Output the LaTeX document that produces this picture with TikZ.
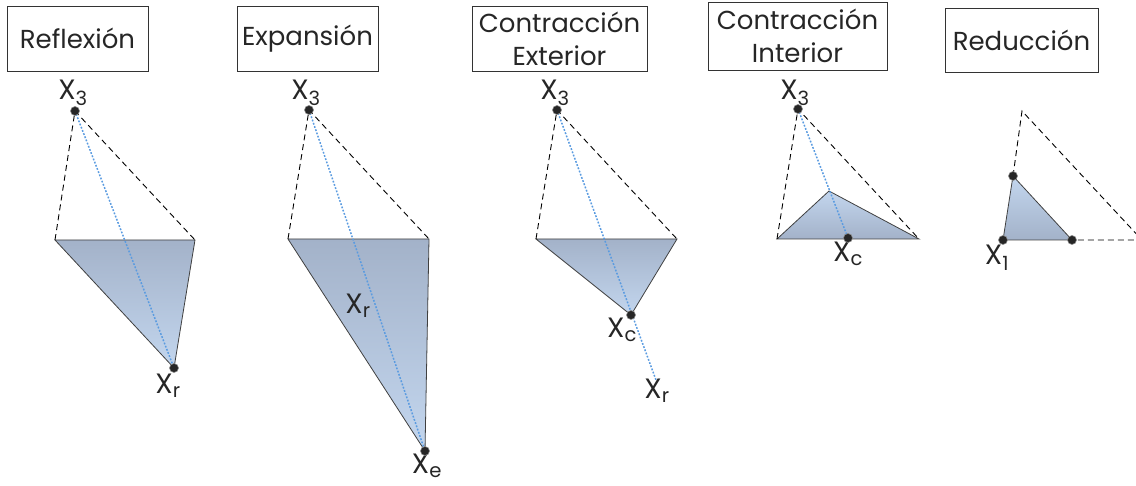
\documentclass[tikz,border=0pt]{standalone}
\usepackage{fontspec}
\setmainfont{Poppins}
\usetikzlibrary{positioning}
\definecolor{simdark}{HTML}{A3B2C9}
\definecolor{simlight}{HTML}{C3D6EE}
\definecolor{simblue}{HTML}{5A9BE0}

\begin{document}
\begin{tikzpicture}[x=1pt, y=-1pt,
    every node/.style={font=\fontsize{26}{33}\selectfont, text=black!85},
    titlebox/.style={draw=black!80, line width=0.9pt, inner sep=0pt, align=center},
    lbl/.style={inner sep=0pt, font=\fontsize{28}{33}\selectfont},
    hull/.style={black, line width=0.9pt, dash pattern=on 6pt off 4pt},
    ray/.style={simblue, line width=1.5pt, dash pattern=on 1.8pt off 1.6pt},
    simplexdown/.style={draw=black!75, line width=0.8pt, top color=simdark, middle color=simdark, bottom color=simlight},
    simplexup/.style={draw=black!75, line width=0.8pt, top color=simlight, bottom color=simdark}]
    \clip (0,0) rectangle (1136,486);

    % titulos
    \node[titlebox, minimum width=141pt, minimum height=65pt] (t1) at (77.5,38.5) {Reflexión};
    \node[titlebox, minimum width=141pt, minimum height=65pt] (t2) at (307.5,38.5) {Expansión};
    \node[titlebox, minimum width=175pt, minimum height=65pt] (t3) at (559.5,38.5) {Contracción\\Exterior};
    \node[titlebox, minimum width=179pt, minimum height=68pt] (t4) at (797.5,36) {Contracción\\Interior};
    \node[titlebox, minimum width=153pt, minimum height=64pt] (t5) at (1021.5,40) {Reducción};

    % reflexion
    \coordinate (r3) at (75,111);
    \coordinate (ra) at (55,240);
    \coordinate (rb) at (195,240);
    \coordinate (rr) at (174,368);
    \draw[simplexdown] (ra) -- (rb) -- (rr) -- cycle;
    \draw[hull] (ra) -- (r3) -- (rb);
    \draw[ray] (r3) -- (rr);
    \node[lbl] (r3l) at (73,93) {X\textsubscript{3}};
    \node[lbl] (rrl) at (168,386) {X\textsubscript{r}};

    % expansion
    \coordinate (e3) at (309,110);
    \coordinate (ea) at (288,239);
    \coordinate (eb) at (429,239);
    \coordinate (ee) at (425,451);
    \draw[simplexdown] (ea) -- (eb) -- (ee) -- cycle;
    \draw[hull] (ea) -- (e3) -- (eb);
    \draw[ray] (e3) -- (ee);
    \node[lbl] (e3l) at (306,93) {X\textsubscript{3}};
    \node[lbl] (erl) at (358,306) {X\textsubscript{r}};
    \node[lbl] (eel) at (427,466) {X\textsubscript{e}};

    % contraccion exterior
    \coordinate (c3) at (557,110);
    \coordinate (ca) at (536,239);
    \coordinate (cb) at (677,239);
    \coordinate (cc) at (631,315);
    \coordinate (cr) at (656,380);
    \draw[simplexdown] (ca) -- (cb) -- (cc) -- cycle;
    \draw[hull] (ca) -- (c3) -- (cb);
    \draw[ray] (c3) -- (cr);
    \node[lbl] (c3l) at (555,93) {X\textsubscript{3}};
    \node[lbl] (ccl) at (622,330) {X\textsubscript{c}};
    \node[lbl] (crl) at (657,391) {X\textsubscript{r}};

    % contraccion interior
    \coordinate (i3) at (798,109);
    \coordinate (ia) at (777,239);
    \coordinate (ib) at (919,239);
    \coordinate (ip) at (829,191);
    \coordinate (ic) at (848,238);
    \draw[simplexup] (ia) -- (ip) -- (ib) -- cycle;
    \draw[hull] (ia) -- (i3) -- (ib);
    \draw[ray] (i3) -- (ic);
    \node[lbl] (i3l) at (795,93) {X\textsubscript{3}};
    \node[lbl] (icl) at (848,254) {X\textsubscript{c}};

    % reduccion
    \coordinate (s1) at (1003,240);
    \coordinate (st) at (1022,111);
    \coordinate (sb) at (1142,240);
    \coordinate (sm) at (1013,176);
    \coordinate (sn) at (1072,240);
    \draw[simplexup] (s1) -- (sm) -- (sn) -- cycle;
    \draw[hull] (sm) -- (st) -- (sb) -- (sn);
    \node[lbl] (s1l) at (997,258) {X\textsubscript{1}};

    % vertices
    \foreach \v in {r3,rr,e3,ee,c3,cc,i3,ic,s1,sm,sn}
        \filldraw[fill=black!85, draw=black!45, line width=0.6pt] (\v) circle (4.5pt);
\end{tikzpicture}
\end{document}
